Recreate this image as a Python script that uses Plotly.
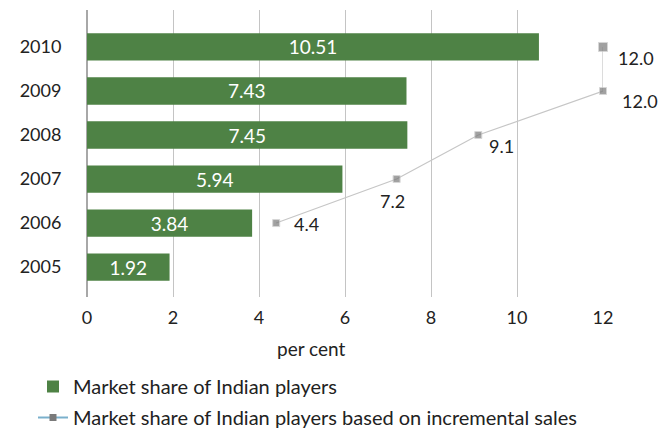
import plotly.graph_objects as go

# Years on the category axis (bottom to top)
years = ["2005", "2006", "2007", "2008", "2009", "2010"]

# Market share of Indian players (per cent)
share = [1.92, 3.84, 5.94, 7.45, 7.43, 10.51]

# Market share based on incremental sales (per cent), 2006 onwards
inc_years = ["2006", "2007", "2008", "2009", "2010"]
inc_share = [4.4, 7.2, 9.1, 12.0, 12.0]

x_ticks = [0, 2, 4, 6, 8, 10, 12]

FONT = "Lato, 'Open Sans', sans-serif"
GREEN = "#4e8245"
GREY_MARK = "#7a7a7a"
GREY_LINE = "#c6c6c6"
GRID = "#c4c4c4"
INK = "#222222"

fig = go.Figure()

fig.add_trace(go.Bar(
    y=years,
    x=share,
    orientation="h",
    marker=dict(color=GREEN, line=dict(width=0)),
    width=0.62,
    text=[f"{v:.2f}" for v in share],
    textposition="inside",
    insidetextanchor="middle",
    textangle=0,
    constraintext="none",
    textfont=dict(color="white", size=19, family=FONT),
    name="Market share of Indian players",
    legendgroup="a",
))

fig.add_trace(go.Scatter(
    y=inc_years,
    x=inc_share,
    mode="lines+markers",
    line=dict(color=GREY_LINE, width=1.2),
    marker=dict(symbol="square", size=[7, 7, 7, 7, 9], color=GREY_MARK),
    cliponaxis=False,
    showlegend=False,
))

# Value labels beside the incremental-sales markers
# (category positions given as indices so numeric-looking years are not misread)
label_style = [
    # (xanchor, xshift, yshift)
    ("left", 17, -1),
    ("center", -4, -22),
    ("left", 10, -11),
    ("left", 18, -10),
    ("left", 14, -11),
]
for yr, v, (anchor, dx, dy) in zip(inc_years, inc_share, label_style):
    fig.add_annotation(
        x=v, y=years.index(yr), xref="x", yref="y",
        text=f"{v:.1f}",
        showarrow=False,
        xanchor=anchor, yanchor="middle",
        xshift=dx, yshift=dy,
        borderpad=0,
        font=dict(color=INK, size=18, family=FONT),
    )

# Legend entry for the incremental-sales series
fig.add_trace(go.Scatter(
    y=[None],
    x=[None],
    mode="lines+markers",
    line=dict(color="#7ab0cc", width=2),
    marker=dict(symbol="square", size=7, color=GREY_MARK),
    name="Market share of Indian players based on incremental sales",
    legendgroup="b",
))

fig.update_layout(
    width=660,
    height=431,
    margin=dict(l=87, r=57, t=10, b=134, autoexpand=False),
    paper_bgcolor="white",
    plot_bgcolor="white",
    font=dict(family=FONT, size=18, color=INK),
    showlegend=True,
    legend=dict(
        xref="container", yref="container",
        x=33 / 660, y=1 - 367 / 431,
        xanchor="left", yanchor="top",
        orientation="v",
        tracegroupgap=2,
        font=dict(size=20, family=FONT, color=INK),
        bgcolor="rgba(0,0,0,0)",
    ),
    bargap=0.38,
)

fig.update_xaxes(
    range=[0, 12],
    tickvals=x_ticks,
    ticktext=[str(t) for t in x_ticks],
    showgrid=True,
    gridcolor=GRID,
    gridwidth=1,
    zeroline=True,
    zerolinecolor="#a8a8a8",
    zerolinewidth=2,
    showline=False,
    ticks="outside",
    ticklen=4,
    tickcolor="rgba(0,0,0,0)",
    tickfont=dict(size=18, family=FONT),
)

fig.update_yaxes(
    type="category",
    categoryorder="array",
    categoryarray=years,
    range=[-0.68, 5.84],
    showgrid=False,
    zeroline=False,
    showline=False,
    ticks="outside",
    ticklen=21,
    tickcolor="rgba(0,0,0,0)",
    tickfont=dict(size=18, family=FONT),
)

fig.add_annotation(
    text="per cent",
    xref="paper", yref="paper",
    x=(311 - 87) / 516, y=-(348 - 297) / 287,
    xanchor="center", yanchor="middle",
    showarrow=False,
    font=dict(size=19, family=FONT, color=INK),
)

fig.write_html("out.html")
